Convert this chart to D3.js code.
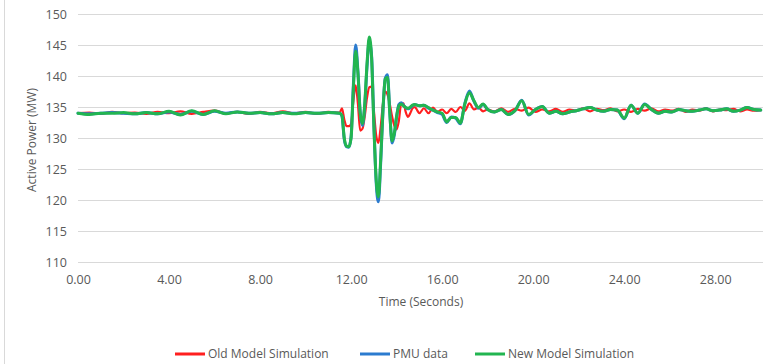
<!DOCTYPE html>
<html><head><meta charset="utf-8">
<script src="https://cdn.jsdelivr.net/npm/d3@7"></script>
<style>body{margin:0;background:#fff}svg{display:block}text{font-family:"Open Sans",sans-serif;fill:#595959}</style>
</head><body><svg id="c" width="769" height="364"></svg>
<script>
const time = [0,0.5,1,1.5,2,2.5,3,3.5,4,4.5,5,5.5,6,6.5,7,7.5,8,8.5,9,9.5,10,10.5,11,11.5,
11.6,11.7,11.8,11.9,12.0,12.1,12.2,12.3,12.4,12.5,12.6,12.7,12.8,12.9,13.0,13.1,13.2,13.3,13.4,13.5,13.6,13.7,13.8,13.9,14.0,14.1,14.2,14.3,14.4,14.5,14.6,14.7,14.8,14.9,15.0,
15.2,15.4,15.6,15.8,16.0,16.2,16.4,16.6,16.8,17.0,17.2,17.4,17.6,17.8,18.0,
18.3,18.6,18.9,19.2,19.5,19.8,20.1,20.4,20.7,21.0,21.3,21.6,21.9,22.2,22.5,22.8,23.1,23.4,23.7,24.0,24.3,24.6,24.9,25.2,25.5,25.8,26.1,26.4,26.7,27.0,27.3,27.6,27.9,28.2,28.5,28.8,29.1,29.4,29.7,30.0];

const oldModel = [134.0,134.1,133.9,134.2,134.0,134.1,133.9,134.2,134.0,134.3,133.9,134.2,134.4,134.0,134.2,133.9,134.2,134.0,134.3,134.0,134.2,133.9,134.2,134.1,
134.8,133.0,131.9,131.9,132.3,136.0,138.5,135.5,131.2,131.5,133.5,136.5,138.2,138.3,134.5,130.5,129.2,131.8,135.5,137.5,137.0,135.5,133.5,132.0,131.4,132.8,135.5,135.6,134.2,133.4,134.0,134.8,135.0,134.5,134.0,
134.8,134.0,134.9,134.2,134.6,134.0,134.7,134.2,135.0,134.4,135.6,134.6,134.9,134.3,134.6,
134.3,134.8,134.2,134.7,134.4,134.9,134.2,134.6,134.3,134.7,134.2,134.6,134.4,134.8,134.3,134.7,134.5,134.8,134.3,134.6,134.2,134.7,134.4,134.8,134.3,134.6,134.4,134.7,134.2,134.6,134.4,134.8,134.3,134.6,134.5,134.7,134.3,134.6,134.4,134.5];

const pmuData = [134.0,133.9,134.0,134.1,134.0,133.9,134.1,133.9,134.2,133.8,134.3,133.8,134.3,134.0,134.2,134.0,134.1,133.9,134.1,134.0,134.1,134.0,134.1,134.0,
133.5,129.8,128.6,128.5,130.2,138.5,145.0,140.8,134.2,132.0,135.2,141.5,145.8,143.3,132.5,123.0,119.7,126.0,134.3,139.6,140.2,134.2,129.2,130.5,133.4,135.4,135.7,135.3,134.9,134.7,134.9,135.2,135.4,135.3,135.2,
135.3,134.8,134.5,134.1,133.8,132.5,133.4,133.2,132.3,135.6,137.6,135.9,134.8,135.4,134.6,
134.2,134.6,133.8,134.4,136.1,133.7,134.6,135.1,134.0,134.3,133.9,134.2,134.4,134.7,134.9,134.5,134.3,134.6,134.5,133.1,135.3,134.0,135.5,134.6,134.0,134.3,134.2,134.6,134.4,134.3,134.5,134.7,134.4,134.5,134.7,134.3,134.5,134.9,134.6,134.5];

const newModel = [134.0,133.8,134.0,134.0,134.1,133.9,134.1,133.9,134.3,133.7,134.4,133.8,134.4,133.9,134.2,134.0,134.1,133.9,134.1,133.9,134.1,134.0,134.1,134.0,
133.6,130.0,128.7,128.6,130.0,138.0,144.0,140.5,134.0,132.3,135.5,142.0,146.3,143.0,132.0,123.5,120.5,126.5,134.5,139.5,139.8,134.0,129.5,130.8,133.5,135.2,135.5,135.2,134.9,134.8,135.0,135.3,135.4,135.3,135.2,
135.3,134.9,134.5,134.2,134.0,132.6,133.3,133.3,132.4,135.5,137.3,136.0,134.9,135.5,134.6,
134.2,134.6,133.8,134.4,136.0,133.8,134.6,135.1,134.0,134.3,133.9,134.2,134.4,134.7,134.9,134.5,134.3,134.6,134.5,133.2,135.3,134.0,135.4,134.6,134.0,134.3,134.2,134.6,134.4,134.3,134.5,134.7,134.4,134.5,134.7,134.3,134.5,134.9,134.6,134.5];

const yTicks = [110,115,120,125,130,135,140,145,150];
const xTicks = [0,4,8,12,16,20,24,28];
const seriesNames = ["Old Model Simulation","PMU data","New Model Simulation"];
const seriesColors = ["#ff1f1f","#2b7bcf","#22b550"];
const seriesData = [oldModel, pmuData, newModel];

const svg = d3.select("#c");
const x = d3.scaleLinear().domain([0,30.1]).range([78,763]);
const y = d3.scaleLinear().domain([110,150]).range([262,14]);

// chart area border (left edge)
svg.append("line").attr("x1",4.5).attr("x2",4.5).attr("y1",0).attr("y2",364).attr("stroke","#d9d9d9");

// gridlines + y labels
const ya = svg.append("g").attr("transform","translate(78,0)")
  .call(d3.axisLeft(y).tickValues(yTicks).tickSize(-(763-78)).tickPadding(11).tickFormat(d3.format("d")));
ya.select(".domain").remove();
ya.selectAll(".tick line").attr("stroke","#d9d9d9");
ya.selectAll("text").style("font-size","12.5px").attr("fill","#595959");

// x labels
const xa = svg.append("g").attr("transform","translate(0,262)")
  .call(d3.axisBottom(x).tickValues(xTicks).tickSize(0).tickPadding(13).tickFormat(d3.format(".2f")));
xa.select(".domain").remove();
xa.selectAll("text").style("font-size","12.5px").attr("fill","#595959");

// axis titles
svg.append("text").attr("x",421).attr("y",306).attr("text-anchor","middle").style("font-size","12px").text("Time (Seconds)");
svg.append("text").attr("transform","translate(36,140) rotate(-90)").attr("text-anchor","middle").style("font-size","12px").text("Active Power (MW)");

// lines
const line = d3.line().x((d,i)=>x(time[i])).y(d=>y(d)).curve(d3.curveMonotoneX);
const widths = [2.2,3,3];
seriesData.forEach((s,k)=>{
  svg.append("path").datum(s).attr("d",line).attr("fill","none")
    .attr("stroke",seriesColors[k]).attr("stroke-width",widths[k]).attr("stroke-linejoin","round").attr("stroke-linecap","round");
});

// legend
const legX = [175,360,475];
const lg = svg.append("g");
seriesNames.forEach((n,k)=>{
  lg.append("line").attr("x1",legX[k]).attr("x2",legX[k]+30).attr("y1",354).attr("y2",354)
    .attr("stroke",seriesColors[k]).attr("stroke-width",3);
  lg.append("text").attr("x",legX[k]+33).attr("y",354).attr("dy","0.35em").style("font-size","12px").text(n);
});
</script></body></html>
